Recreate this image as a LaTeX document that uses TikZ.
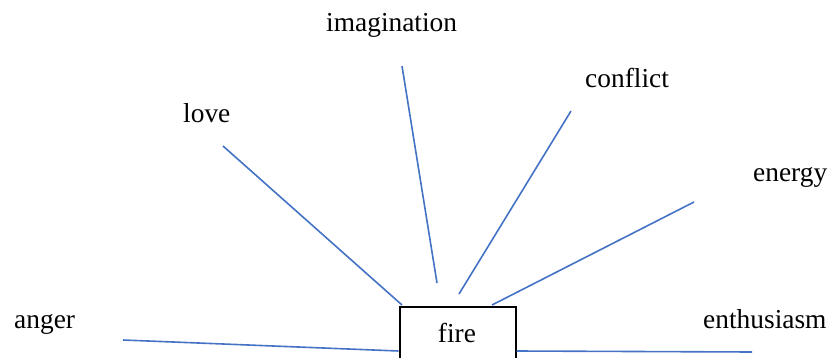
\documentclass[tikz,border=0pt]{standalone}
\usepackage{fontspec}
\setmainfont{Liberation Serif}
\definecolor{spokeblue}{HTML}{4472C4}
\begin{document}
\begin{tikzpicture}[x=1pt,y=-1pt,
    word/.style={inner sep=0pt,anchor=base west,font=\fontsize{27.4}{32}\selectfont},
    spoke/.style={spokeblue,line width=1.6pt}]
    \useasboundingbox (0,0) rectangle (829,358);
    \clip (0,0) rectangle (829,358);
    \path (398.5,306) node[draw,line width=2pt,minimum width=116pt,minimum height=110pt,anchor=north west,inner sep=0pt] (fire) {};
    \node[word,anchor=base] (firetext) at (457,342) {fire};
    \node[word] (anger) at (14,328) {anger};
    \node[word] (love) at (183,123) {love};
    \node[word] (imagination) at (326,32) {imagination};
    \node[word] (conflict) at (585,88) {conflict};
    \node[word] (energy) at (753,182) {energy};
    \node[word] (enthusiasm) at (703,328) {enthusiasm};
    % free ends of the spokes
    \coordinate (a1) at (123,340);
    \coordinate (a2) at (fire.west |- 0,351);
    \coordinate (l1) at (223,146);
    \coordinate (l2) at (402,305);
    \coordinate (i1) at (402,66);
    \coordinate (i2) at (437,283);
    \coordinate (c1) at (571,111);
    \coordinate (c2) at (459,294);
    \coordinate (e1) at (694,202);
    \coordinate (e2) at (492,305);
    \coordinate (t1) at (fire.east |- 0,351);
    \coordinate (t2) at (752,352);
    \draw[spoke] (a1) -- (a2);
    \draw[spoke] (l1) -- (l2);
    \draw[spoke] (i1) -- (i2);
    \draw[spoke] (c1) -- (c2);
    \draw[spoke] (e1) -- (e2);
    \draw[spoke] (t1) -- (t2);
\end{tikzpicture}
\end{document}
